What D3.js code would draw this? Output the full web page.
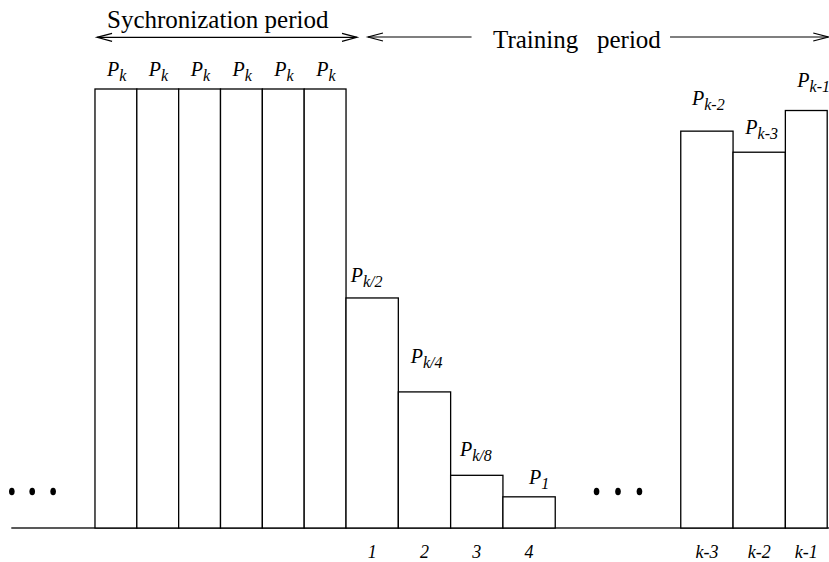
<!DOCTYPE html>
<html><head><meta charset="utf-8">
<script src="https://cdn.jsdelivr.net/npm/d3@7"></script>
<style>
html,body{margin:0;padding:0;background:#fff;}
svg{display:block;font-family:"Liberation Serif","Times New Roman",serif;}
</style></head>
<body>
<svg id="chart" width="829" height="562"></svg>
<script>
// ---- data ----
const syncSubs   = ["k","k","k","k","k","k"];
const syncPower  = [1, 1, 1, 1, 1, 1];
const syncStart  = [-4.8, -4.0, -3.2, -2.4, -1.6, -0.8];
const syncWidth  = [0.8, 0.8, 0.8, 0.8, 0.8, 0.8];

const trainSlots = ["1", "2", "3", "4", "k-3", "k-2", "k-1"];
const trainSubs  = ["k/2", "k/4", "k/8", "1", "k-2", "k-3", "k-1"];
const trainPower = [0.524, 0.31, 0.12, 0.071, 0.904, 0.856, 0.951];
const trainStart = [0, 1, 2, 3, 6.4, 7.4, 8.4];
const trainWidth = [1, 1, 1, 1, 1, 1, 0.8];

const dotsLeft  = [-6.39, -6.0, -5.6];
const dotsRight = [4.79, 5.2, 5.61];
const dotLevel  = 0.083;

const headerLeft  = "Sychronization period";
const headerRight = "Training   period";

// ---- layout/styling ----
const svg = d3.select("#chart");
const x = d3.scaleLinear().domain([-6.4, 9.2]).range([11.3, 827.2]);
const y = d3.scaleLinear().domain([0, 1]).range([528, 89]);

// label nudges (px): [dx from bar left, baseline gap above bar top]
const syncNudge  = [13, 13];
const trainNudge = [[5.7,16],[13.4,29],[10.3,19],[27,13],[12.3,26],[13.3,18],[13,24]];

const bars = syncPower.map((v,i)=>({v, s:syncStart[i], w:syncWidth[i], sub:syncSubs[i], nd:syncNudge, slot:null}))
  .concat(trainPower.map((v,i)=>({v, s:trainStart[i], w:trainWidth[i], sub:trainSubs[i], nd:trainNudge[i], slot:trainSlots[i]})));

// baseline
svg.append("line")
  .attr("x1", x(-6.4)).attr("x2", 829)
  .attr("y1", y(0)).attr("y2", y(0))
  .attr("stroke", "#222").attr("stroke-width", 1.4);

// bars
svg.append("g").selectAll("rect").data(bars).join("rect")
  .attr("x", d => x(d.s))
  .attr("y", d => y(d.v))
  .attr("width", d => x(d.s + d.w) - x(d.s))
  .attr("height", d => y(0) - y(d.v))
  .attr("fill", "#fff")
  .attr("stroke", "#000")
  .attr("stroke-width", 1.3);

// power labels
const lab = svg.append("g").selectAll("text").data(bars).join("text")
  .attr("x", d => x(d.s) + d.nd[0] - 1)
  .attr("y", d => y(d.v) - d.nd[1])
  .attr("font-style", "italic")
  .attr("fill", "#000");
lab.append("tspan").attr("font-size", 20).text("P");
lab.append("tspan").attr("font-size", 16).attr("dy", 5).text(d => d.sub);

// slot labels
svg.append("g").selectAll("text").data(bars.filter(d => d.slot)).join("text")
  .attr("x", d => x(d.s + d.w / 2))
  .attr("y", 558)
  .attr("text-anchor", "middle")
  .attr("font-style", "italic")
  .attr("font-size", 18)
  .text(d => d.slot);

// dots
svg.append("g").selectAll("ellipse").data(dotsLeft.concat(dotsRight)).join("ellipse")
  .attr("cx", d => x(d)).attr("cy", y(dotLevel))
  .attr("rx", 2.8).attr("ry", 3.8).attr("fill", "#000");

// header arrows
function arrowLine(x1, x2, yy, headL, headR){
  svg.append("line").attr("x1", x1).attr("x2", x2).attr("y1", yy).attr("y2", yy)
    .attr("stroke", "#000").attr("stroke-width", 1.2);
  const hl = 15, hw = 4;
  if (headL) svg.append("path").attr("d", `M${x1+hl},${yy-hw} L${x1},${yy} L${x1+hl},${yy+hw}`)
    .attr("fill", "none").attr("stroke", "#000").attr("stroke-width", 1.2);
  if (headR) svg.append("path").attr("d", `M${x2-hl},${yy-hw} L${x2},${yy} L${x2-hl},${yy+hw}`)
    .attr("fill", "none").attr("stroke", "#000").attr("stroke-width", 1.2);
}
arrowLine(x(-4.76), x(0.21), 37.3, true, true);
arrowLine(x(0.42), x(2.40), 37, true, false);
arrowLine(x(6.195), x(9.22), 37, false, true);

svg.append("text").attr("x", 107).attr("y", 28.3).attr("font-size", 25).text(headerLeft);
svg.append("text").attr("x", 493).attr("y", 48.3).attr("font-size", 25)
  .attr("xml:space", "preserve").style("white-space", "pre").text(headerRight);
</script>
</body></html>
